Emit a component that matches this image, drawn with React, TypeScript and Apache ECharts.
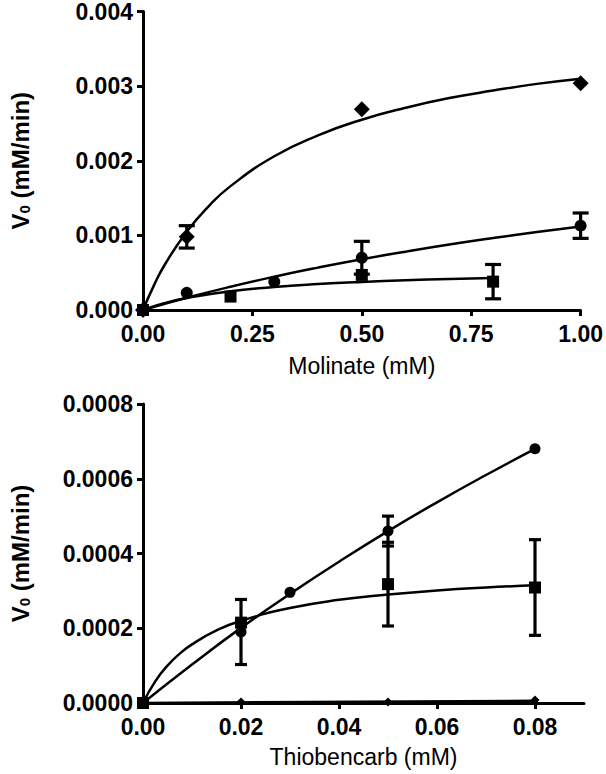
import React, { useEffect, useRef } from "react";
import * as echarts from "echarts";

// ---------- Top panel: Molinate ----------
const topTicksX = [0, 0.25, 0.5, 0.75, 1.0];
const topTicksY = [0, 0.001, 0.002, 0.003, 0.004];

const topDiamondX = [0, 0.1, 0.5, 1.0];
const topDiamondY = [0, 0.00098, 0.00269, 0.00304];
const topDiamondErr = [0, 0.00015, 0, 0];

const topCircleX = [0, 0.1, 0.3, 0.5, 1.0];
const topCircleY = [0, 0.00023, 0.00038, 0.0007, 0.00113];
const topCircleErr = [0, 0, 0, 0.00022, 0.00017];

const topSquareX = [0, 0.2, 0.5, 0.8];
const topSquareY = [0, 0.00018, 0.00047, 0.00038];
const topSquareErr = [0, 0, 0, 0.00023];

// fitted curves
const topDiamondCurveX = [0, 0.025, 0.05, 0.1, 0.15, 0.2, 0.3, 0.4, 0.5, 0.6, 0.7, 0.8, 0.9, 1.0];
const topDiamondCurveY = [0, 0.00033, 0.00061, 0.00105, 0.00139, 0.00166, 0.00206, 0.00234, 0.00255, 0.00271, 0.00284, 0.00294, 0.00303, 0.0031];
const topCircleCurveX = [0, 0.1, 0.2, 0.3, 0.4, 0.5, 0.6, 0.7, 0.8, 0.9, 1.0];
const topCircleCurveY = [0, 0.000164, 0.000312, 0.000446, 0.000568, 0.00068, 0.000782, 0.000877, 0.000964, 0.001045, 0.00112];
const topSquareCurveX = [0, 0.05, 0.1, 0.2, 0.3, 0.4, 0.5, 0.6, 0.7, 0.8];
const topSquareCurveY = [0, 0.000094, 0.000161, 0.000251, 0.000308, 0.000347, 0.000376, 0.000398, 0.000416, 0.00043];

// ---------- Bottom panel: Thiobencarb ----------
const botTicksX = [0, 0.02, 0.04, 0.06, 0.08];
const botTicksY = [0, 0.0002, 0.0004, 0.0006, 0.0008];

const botCircleX = [0, 0.02, 0.03, 0.05, 0.08];
const botCircleY = [0, 0.00019, 0.000296, 0.00046, 0.00068];
const botCircleErr = [0, 0.000087, 0, 0.00004, 0];

const botSquareX = [0, 0.02, 0.05, 0.08];
const botSquareY = [0, 0.000215, 0.000318, 0.000309];
const botSquareErr = [0, 0, 0.000112, 0.000128];

const botDiamondX = [0, 0.02, 0.05, 0.08];
const botDiamondY = [0, 0.000003, 0.000003, 0.000008];

const botCircleCurveX = [0, 0.01, 0.02, 0.03, 0.04, 0.05, 0.06, 0.07, 0.08];
const botCircleCurveY = [0, 0.000103, 0.000201, 0.000292, 0.000378, 0.00046, 0.000537, 0.00061, 0.00068];
const botSquareCurveX = [0, 0.0025, 0.005, 0.0075, 0.01, 0.015, 0.02, 0.03, 0.04, 0.05, 0.06, 0.07, 0.08];
const botSquareCurveY = [0, 0.000058, 0.0001, 0.000132, 0.000157, 0.000194, 0.00022, 0.000254, 0.000276, 0.00029, 0.000301, 0.000309, 0.000315];
const botDiamondCurveX = [0, 0.08];
const botDiamondCurveY = [0, 0.000006];

const FONT = "'Liberation Sans', Arial, Helvetica, sans-serif";

const zip = (xs: number[], ys: number[]) => xs.map((x, i) => [x, ys[i]]);
const errData = (xs: number[], ys: number[], es: number[]) =>
  xs.map((x, i) => [x, ys[i] - es[i], ys[i] + es[i], es[i]]).filter((d) => d[3] > 0).map((d) => [d[0], d[1], d[2]]);

function errSeries(data: number[][], idx: number, capW: number) {
  return {
    type: "custom",
    xAxisIndex: idx,
    yAxisIndex: idx,
    z: 3,
    encode: { x: 0, y: [1, 2] },
    data,
    renderItem: (params: any, api: any) => {
      const x = api.value(0);
      const lo = api.coord([x, api.value(1)]);
      const hi = api.coord([x, api.value(2)]);
      const st = { stroke: "#000", lineWidth: 3.2 };
      const h = capW / 2;
      return {
        type: "group",
        children: [
          { type: "line", shape: { x1: lo[0], y1: lo[1], x2: hi[0], y2: hi[1] }, style: st },
          { type: "line", shape: { x1: lo[0] - h, y1: lo[1], x2: lo[0] + h, y2: lo[1] }, style: st },
          { type: "line", shape: { x1: hi[0] - h, y1: hi[1], x2: hi[0] + h, y2: hi[1] }, style: st },
        ],
      };
    },
  };
}

function curve(xs: number[], ys: number[], idx: number, smooth: boolean) {
  return {
    type: "line",
    xAxisIndex: idx,
    yAxisIndex: idx,
    data: zip(xs, ys),
    smooth,
    symbol: "none",
    z: 2,
    lineStyle: { color: "#000", width: 2.5 },
  };
}

function marks(xs: number[], ys: number[], idx: number, symbol: string, size: number) {
  return {
    type: "scatter",
    xAxisIndex: idx,
    yAxisIndex: idx,
    data: zip(xs, ys),
    symbol,
    symbolSize: size,
    z: 4,
    itemStyle: { color: "#000", opacity: 1 },
  };
}

const axisLine = { show: true, onZero: false, lineStyle: { color: "#000", width: 3 } };
const axisTick = (vals: number[]) => ({
  show: true,
  inside: false,
  length: 6,
  customValues: vals,
  lineStyle: { color: "#000", width: 3 },
});

const yName = "{v|V}{sub|0}{v| (mM/min)}";
const yNameStyle = {
  fontFamily: FONT,
  fontWeight: "bold",
  fontSize: 24,
  color: "#000",
  rich: {
    v: { fontFamily: FONT, fontWeight: "bold", fontSize: 24, color: "#000", lineHeight: 24 },
    sub: { fontFamily: FONT, fontWeight: "bold", fontSize: 15, color: "#000", lineHeight: 15, verticalAlign: "bottom" },
  },
};

export default function App() {
  const ref = useRef<HTMLDivElement>(null);
  useEffect(() => {
    if (!ref.current) return;
    const chart = echarts.init(ref.current, null, { renderer: "svg" });
    const labelStyle = { fontFamily: FONT, fontWeight: "bold", fontSize: 23, color: "#000" };
    chart.setOption({
      animation: false,
      backgroundColor: "#fff",
      grid: [
        { left: 133, top: 9, width: 450, height: 301, containLabel: false },
        { left: 132, top: 404, width: 452, height: 299, containLabel: false },
      ],
      xAxis: [
        {
          gridIndex: 0,
          type: "value",
          min: 0,
          max: 1,
          interval: 0.25,
          axisLine,
          axisTick: axisTick(topTicksX),
          splitLine: { show: false },
          axisLabel: { ...labelStyle, margin: 12, customValues: topTicksX, formatter: (v: number) => v.toFixed(2) },
          name: "Molinate (mM)",
          nameLocation: "middle",
          nameGap: 44,
          nameTextStyle: { fontFamily: FONT, fontSize: 23, color: "#000" },
        },
        {
          gridIndex: 1,
          type: "value",
          min: 0,
          max: 0.09,
          interval: 0.02,
          axisLine,
          axisTick: axisTick(botTicksX),
          splitLine: { show: false },
          axisLabel: { ...labelStyle, margin: 12, customValues: botTicksX, formatter: (v: number) => v.toFixed(2) },
          name: "Thiobencarb (mM)",
          nameLocation: "middle",
          nameGap: 42,
          nameTextStyle: { fontFamily: FONT, fontSize: 23, color: "#000" },
        },
      ],
      yAxis: [
        {
          gridIndex: 0,
          type: "value",
          min: 0,
          max: 0.004,
          interval: 0.001,
          axisLine,
          axisTick: axisTick(topTicksY),
          splitLine: { show: false },
          axisLabel: { ...labelStyle, margin: 10, customValues: topTicksY, formatter: (v: number) => v.toFixed(3) },
          name: yName,
          nameLocation: "middle",
          nameGap: 111,
          nameRotate: 90,
          nameTextStyle: yNameStyle,
        },
        {
          gridIndex: 1,
          type: "value",
          min: 0,
          max: 0.0008,
          interval: 0.0002,
          axisLine,
          axisTick: axisTick(botTicksY),
          splitLine: { show: false },
          axisLabel: { ...labelStyle, margin: 10, customValues: botTicksY, formatter: (v: number) => v.toFixed(4) },
          name: yName,
          nameLocation: "middle",
          nameGap: 111,
          nameRotate: 90,
          nameTextStyle: yNameStyle,
        },
      ],
      series: [
        curve(topDiamondCurveX, topDiamondCurveY, 0, true),
        curve(topCircleCurveX, topCircleCurveY, 0, true),
        curve(topSquareCurveX, topSquareCurveY, 0, true),
        errSeries(errData(topDiamondX, topDiamondY, topDiamondErr), 0, 16),
        errSeries(errData(topCircleX, topCircleY, topCircleErr), 0, 16),
        errSeries(errData(topSquareX, topSquareY, topSquareErr), 0, 16),
        marks(topDiamondX, topDiamondY, 0, "diamond", 16),
        marks(topCircleX, topCircleY, 0, "circle", 12),
        marks(topSquareX, topSquareY, 0, "rect", 12),

        curve(botCircleCurveX, botCircleCurveY, 1, true),
        curve(botSquareCurveX, botSquareCurveY, 1, true),
        curve(botDiamondCurveX, botDiamondCurveY, 1, false),
        errSeries(errData(botCircleX, botCircleY, botCircleErr), 1, 12),
        errSeries(errData(botSquareX, botSquareY, botSquareErr), 1, 12),
        marks(botCircleX, botCircleY, 1, "circle", 11),
        marks(botSquareX, botSquareY, 1, "rect", 12),
        marks(botDiamondX, botDiamondY, 1, "diamond", 9),
      ],
    });
    return () => chart.dispose();
  }, []);
  return <div ref={ref} style={{ position: "fixed", left: 0, top: 0, width: 606, height: 774, background: "#fff" }} />;
}
